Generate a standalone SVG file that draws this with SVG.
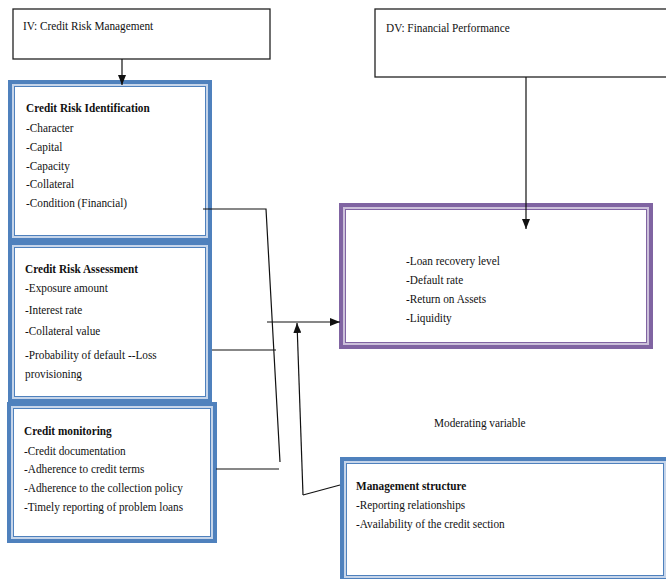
<svg xmlns="http://www.w3.org/2000/svg" width="666" height="579" viewBox="0 0 666 579">
<style>
text{font-family:"Liberation Serif","Times New Roman",serif;font-size:13px;fill:#111}
.b{font-weight:bold}
.plain{fill:#fff;stroke:#222;stroke-width:1.3}
.bo{fill:#4F81BD}.bl{fill:#C6D5EA}.bi{fill:#fff;stroke:#4F81BD;stroke-width:1}
.po{fill:#8064A2}.pl{fill:#CCC0DA}.pi{fill:#fff;stroke:#8064A2;stroke-width:1}
.c{fill:none;stroke:#111;stroke-width:1.2}
</style>
<defs>
<marker id="ah" markerUnits="userSpaceOnUse" markerWidth="10" markerHeight="8" refX="10" refY="4" orient="auto">
<path d="M0,0 L10,4 L0,8 z" fill="#111"/>
</marker>
</defs>
<g id="iv">
<rect class="plain" x="13" y="9" width="257" height="50"/>
<text transform="matrix(0.867 0 0 1 23 30)">IV: Credit Risk Management</text>
</g>
<g id="dv">
<rect class="plain" x="375" y="9" width="292" height="68"/>
<text transform="matrix(0.867 0 0 1 386 32)">DV: Financial Performance</text>
</g>
<g id="identification">
<rect class="bo" x="8" y="80" width="204" height="162"/>
<rect class="bl" x="12" y="84" width="196" height="154"/>
<rect class="bi" x="14.5" y="86.5" width="191" height="149"/>
<text class="b" transform="matrix(0.867 0 0 1 26 112)">Credit Risk Identification</text>
<text transform="matrix(0.867 0 0 1 26 132)">-Character</text>
<text transform="matrix(0.867 0 0 1 26 151)">-Capital</text>
<text transform="matrix(0.867 0 0 1 26 170)">-Capacity</text>
<text transform="matrix(0.867 0 0 1 26 188)">-Collateral</text>
<text transform="matrix(0.867 0 0 1 26 207)">-Condition (Financial)</text>
</g>
<g id="assessment">
<rect class="bo" x="8" y="241" width="204" height="162"/>
<rect class="bl" x="12" y="245" width="196" height="154"/>
<rect class="bi" x="14.5" y="247.5" width="191" height="149"/>
<text class="b" transform="matrix(0.867 0 0 1 25 273)">Credit Risk Assessment</text>
<text transform="matrix(0.867 0 0 1 25 292)">-Exposure amount</text>
<text transform="matrix(0.867 0 0 1 25 314)">-Interest rate</text>
<text transform="matrix(0.867 0 0 1 25 335)">-Collateral value</text>
<text transform="matrix(0.867 0 0 1 25 359)">-Probability of default --Loss</text>
<text transform="matrix(0.867 0 0 1 25 378)">provisioning</text>
</g>
<g id="monitoring">
<rect class="bo" x="7" y="402" width="210" height="141"/>
<rect class="bl" x="11" y="406" width="202" height="133"/>
<rect class="bi" x="13.5" y="408.5" width="197" height="128"/>
<text class="b" transform="matrix(0.867 0 0 1 24 435)">Credit monitoring</text>
<text transform="matrix(0.867 0 0 1 24 455)">-Credit documentation</text>
<text transform="matrix(0.867 0 0 1 24 473)">-Adherence to credit terms</text>
<text transform="matrix(0.867 0 0 1 24 492)">-Adherence to the collection policy</text>
<text transform="matrix(0.867 0 0 1 24 511)">-Timely reporting of problem loans</text>
</g>
<g id="performance">
<rect class="po" x="339" y="203" width="314" height="146"/>
<rect class="pl" x="343" y="207" width="306" height="138"/>
<rect class="pi" x="345.5" y="209.5" width="301" height="133"/>
<text transform="matrix(0.867 0 0 1 406 265)">-Loan recovery level</text>
<text transform="matrix(0.867 0 0 1 406 284)">-Default rate</text>
<text transform="matrix(0.867 0 0 1 406 303)">-Return on Assets</text>
<text transform="matrix(0.867 0 0 1 406 322)">-Liquidity</text>
</g>
<g id="moderating-label">
<text transform="matrix(0.867 0 0 1 434 427)">Moderating variable</text>
</g>
<g id="management">
<rect class="bo" x="340" y="457" width="330" height="125"/>
<rect class="bl" x="344" y="461" width="322" height="117"/>
<rect class="bi" x="346.5" y="463.5" width="317" height="112"/>
<text class="b" transform="matrix(0.867 0 0 1 356 490)">Management structure</text>
<text transform="matrix(0.867 0 0 1 356 509)">-Reporting relationships</text>
<text transform="matrix(0.867 0 0 1 356 528)">-Availability of the credit section</text>
</g>
<g id="connectors">
<line class="c" x1="122" y1="59" x2="122" y2="85" marker-end="url(#ah)"/>
<line class="c" x1="526" y1="77" x2="526" y2="229" marker-end="url(#ah)"/>
<polyline class="c" points="203,209 266,209 280,462"/>
<line class="c" x1="212" y1="350" x2="276" y2="350"/>
<line class="c" x1="216" y1="469" x2="279" y2="469"/>
<line class="c" x1="267" y1="322" x2="340" y2="322" marker-end="url(#ah)"/>
<line class="c" x1="303" y1="495" x2="297" y2="323" marker-end="url(#ah)"/>
<line class="c" x1="303" y1="495" x2="340" y2="485"/>
</g>
</svg>
